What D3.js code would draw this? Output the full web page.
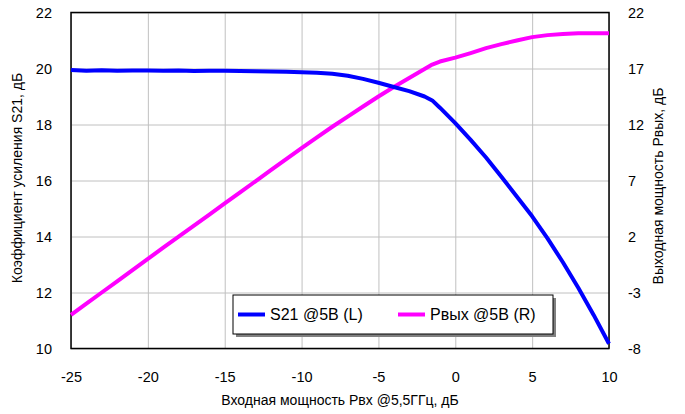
<!DOCTYPE html>
<html lang="ru">
  <head>
    <meta charset="utf-8">
    <title></title>
    <script type="text/javascript" src="https://cdn.jsdelivr.net/npm/d3@7/dist/d3.min.js"></script>
    <style>
      body { margin: 0; background: #fff; }
      text { font-family: "Liberation Sans", Arial, sans-serif; fill: #000; }
    </style>
  </head>
  <body>
    <script type="text/javascript">
      // входная мощность, дБ
      var pin = [-25, -24, -23, -22, -21, -20, -19, -18, -17, -16, -15, -14, -13, -12, -11,
                 -10, -9, -8, -7, -6, -5, -4, -3, -2, -1.5, -1, 0, 1, 2, 3, 4, 5, 6, 7, 8, 9, 10];
      // S21 @5B, левая ось
      var s21 = [19.95, 19.92, 19.94, 19.92, 19.93, 19.93, 19.92, 19.93, 19.91, 19.92, 19.92, 19.91, 19.90, 19.89, 19.88,
                 19.87, 19.85, 19.81, 19.74, 19.63, 19.49, 19.34, 19.19, 19.00, 18.86, 18.60, 18.05, 17.45, 16.82, 16.13, 15.43, 14.72, 13.93, 13.08, 12.17, 11.20, 10.17];
      // Pвых @5B, правая ось
      var pout = [-5.0, -4.0, -3.0, -2.0, -1.0, 0.0, 1.0, 1.98, 2.97, 3.96, 4.95, 5.94, 6.93, 7.92, 8.91,
                  9.9, 10.86, 11.8, 12.71, 13.61, 14.5, 15.35, 16.15, 16.95, 17.35, 17.62, 17.97, 18.38, 18.82, 19.18, 19.5, 19.8, 19.98, 20.08, 20.14, 20.15, 20.15];

      var xTicks = [-25, -20, -15, -10, -5, 0, 5, 10];
      var yLeftTicks = [10, 12, 14, 16, 18, 20, 22];
      var yRightTicks = [-8, -3, 2, 7, 12, 17, 22];
      var legendNames = ["S21 @5B (L)", "Pвых @5B (R)"];
      var colors = ["#0000ff", "#ff00ff"];

      var w = 685;
      var h = 414;
      var padL = 71, padR = 609, padT = 12.5, padB = 348.5;
      var plain = function (d) { return String(d); };

      var xScale = d3.scaleLinear().domain([-25, 10]).range([padL, padR]);
      var yLeft = d3.scaleLinear().domain([10, 22]).range([padB, padT]);
      var yRight = d3.scaleLinear().domain([-8, 22]).range([padB, padT]);

      var svg = d3.select("body")
                  .append("svg")
                  .attr("width", w)
                  .attr("height", h);

      // сетка
      svg.append("g")
         .attr("transform", "translate(0," + padB + ")")
         .call(d3.axisBottom(xScale).tickValues(xTicks).tickSize(-(padB - padT)).tickFormat(""))
         .call(function (g) { g.select(".domain").remove(); })
         .selectAll("line").attr("stroke", "#c0c0c0").attr("stroke-width", 1);

      svg.append("g")
         .attr("transform", "translate(" + padL + ",0)")
         .call(d3.axisLeft(yLeft).tickValues(yLeftTicks).tickSize(-(padR - padL)).tickFormat(""))
         .call(function (g) { g.select(".domain").remove(); })
         .selectAll("line").attr("stroke", "#c0c0c0").attr("stroke-width", 1);

      // подписи осей
      var xAxis = svg.append("g")
         .attr("transform", "translate(0," + padB + ")")
         .call(d3.axisBottom(xScale).tickValues(xTicks).tickSize(0).tickPadding(23).tickFormat(plain));
      var yAxisL = svg.append("g")
         .attr("transform", "translate(" + padL + ",0)")
         .call(d3.axisLeft(yLeft).tickValues(yLeftTicks).tickSize(0).tickPadding(19).tickFormat(plain));
      var yAxisR = svg.append("g")
         .attr("transform", "translate(" + padR + ",0)")
         .call(d3.axisRight(yRight).tickValues(yRightTicks).tickSize(0).tickPadding(19).tickFormat(plain));

      [xAxis, yAxisL, yAxisR].forEach(function (g) {
        g.select(".domain").remove();
        g.selectAll("text").attr("font-size", "14.5px").attr("font-family", "Liberation Sans, Arial, sans-serif");
      });
      yAxisL.selectAll("text").attr("dy", "0.36em");
      yAxisR.selectAll("text").attr("dy", "0.36em");

      // рамка
      svg.append("rect")
         .attr("x", padL).attr("y", padT)
         .attr("width", padR - padL).attr("height", padB - padT)
         .attr("fill", "none").attr("stroke", "#000").attr("stroke-width", 1.5);

      // кривые
      var idx = d3.range(pin.length);
      var lineS21 = d3.line()
                      .x(function (i) { return xScale(pin[i]); })
                      .y(function (i) { return yLeft(s21[i]); });
      var linePout = d3.line()
                      .x(function (i) { return xScale(pin[i]); })
                      .y(function (i) { return yRight(pout[i]); });

      svg.append("path")
         .attr("d", linePout(idx))
         .attr("fill", "none").attr("stroke", colors[1]).attr("stroke-width", 4)
         .attr("stroke-linejoin", "round");
      svg.append("path")
         .attr("d", lineS21(idx))
         .attr("fill", "none").attr("stroke", colors[0]).attr("stroke-width", 4)
         .attr("stroke-linejoin", "round");

      // легенда
      var lg = svg.append("g").attr("transform", "translate(233,295)");
      lg.append("rect")
        .attr("x", 3).attr("y", 3).attr("width", 320).attr("height", 39)
        .attr("fill", "#808080");
      lg.append("rect")
        .attr("x", 0).attr("y", 0).attr("width", 320).attr("height", 39)
        .attr("fill", "#fff").attr("stroke", "#000").attr("stroke-width", 1);

      var items = lg.selectAll("g.item")
        .data(legendNames)
        .enter()
        .append("g")
        .attr("class", "item")
        .attr("transform", function (d, i) { return "translate(" + (i === 0 ? 5 : 165) + ",19.5)"; });
      items.append("line")
        .attr("x1", 0).attr("x2", 27)
        .attr("stroke", function (d, i) { return colors[i]; })
        .attr("stroke-width", 4);
      items.append("text")
        .attr("x", 32).attr("dy", "0.36em")
        .attr("font-size", "16px")
        .text(function (d) { return d; });

      // заголовки осей
      svg.append("text")
         .attr("x", (padL + padR) / 2).attr("y", 405)
         .attr("text-anchor", "middle").attr("font-size", "14px")
         .text("Входная мощность Pвх @5,5ГГц, дБ");
      svg.append("text")
         .attr("transform", "translate(22,178) rotate(-90)")
         .attr("text-anchor", "middle").attr("font-size", "14px")
         .text("Коэффициент усиления S21, дБ");
      svg.append("text")
         .attr("transform", "translate(663,186) rotate(-90)")
         .attr("text-anchor", "middle").attr("font-size", "14px")
         .text("Выходная мощность Pвых, дБ");
    </script>
  </body>
</html>
